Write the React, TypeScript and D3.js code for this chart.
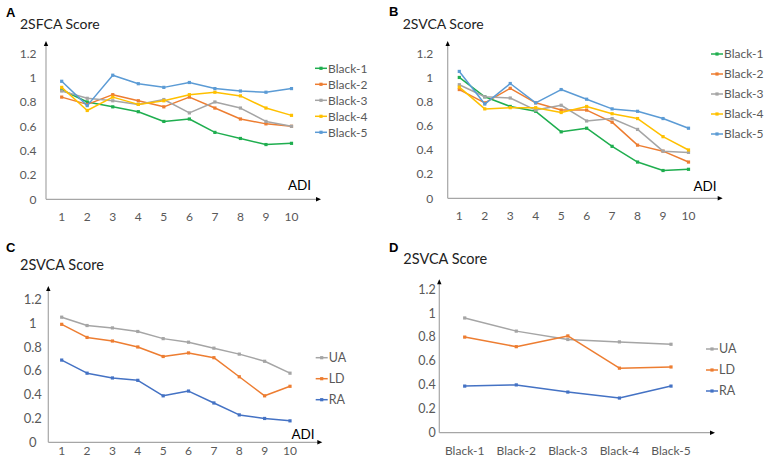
import React from "react";
import * as d3 from "d3";

const adi = [1, 2, 3, 4, 5, 6, 7, 8, 9, 10];
const blackGroups = ["Black-1", "Black-2", "Black-3", "Black-4", "Black-5"];
const yTicks = [0, 0.2, 0.4, 0.6, 0.8, 1, 1.2];
const yTickLabels = ["0", "0.2", "0.4", "0.6", "0.8", "1", "1.2"];

// Panel A: 2SFCA by ADI
const aBlack1 = [0.9, 0.8, 0.76, 0.72, 0.64, 0.66, 0.55, 0.5, 0.45, 0.46];
const aBlack2 = [0.84, 0.78, 0.86, 0.81, 0.76, 0.84, 0.75, 0.66, 0.62, 0.6];
const aBlack3 = [0.89, 0.83, 0.81, 0.78, 0.82, 0.71, 0.8, 0.75, 0.64, 0.6];
const aBlack4 = [0.92, 0.73, 0.84, 0.78, 0.81, 0.86, 0.88, 0.85, 0.75, 0.69];
const aBlack5 = [0.97, 0.77, 1.02, 0.95, 0.92, 0.96, 0.91, 0.89, 0.88, 0.91];

// Panel B: 2SVCA by ADI
const bBlack1 = [1.0, 0.84, 0.76, 0.72, 0.55, 0.58, 0.43, 0.3, 0.23, 0.24];
const bBlack2 = [0.9, 0.79, 0.91, 0.79, 0.73, 0.73, 0.63, 0.44, 0.39, 0.3];
const bBlack3 = [0.94, 0.84, 0.83, 0.73, 0.77, 0.64, 0.66, 0.57, 0.39, 0.38];
const bBlack4 = [0.92, 0.74, 0.75, 0.75, 0.71, 0.76, 0.7, 0.66, 0.51, 0.4];
const bBlack5 = [1.05, 0.78, 0.95, 0.79, 0.9, 0.82, 0.74, 0.72, 0.66, 0.58];

// Panel C: 2SVCA by ADI, by area type
const areaTypes = ["UA", "LD", "RA"];
const cUA = [1.05, 0.98, 0.96, 0.93, 0.87, 0.84, 0.79, 0.74, 0.68, 0.58];
const cLD = [0.99, 0.88, 0.85, 0.8, 0.72, 0.75, 0.71, 0.55, 0.39, 0.47];
const cRA = [0.69, 0.58, 0.54, 0.52, 0.39, 0.43, 0.33, 0.23, 0.2, 0.18];

// Panel D: 2SVCA by Black group, by area type
const dUA = [0.96, 0.85, 0.78, 0.76, 0.74];
const dLD = [0.8, 0.72, 0.81, 0.54, 0.55];
const dRA = [0.39, 0.4, 0.34, 0.29, 0.39];

const FONT = "Lato, 'Open Sans', sans-serif";
const blackColors = ["#1fae4f", "#ed7d31", "#a5a5a5", "#ffc000", "#5b9bd5"];
const areaColors = ["#a5a5a5", "#ed7d31", "#4472c4"];

type Series = { name: string; values: number[]; color: string };

type PanelCfg = {
  letter: string;
  letterX: number;
  letterY: number;
  title: string;
  titleX: number;
  titleY: number;
  titleSize: number;
  axisX: number;
  y0: number;
  y12: number;
  arrowTop: number;
  xEnd: number;
  xFirst: number;
  xLast: number;
  cats: (string | number)[];
  tickX: number;
  tickAnchor: "end" | "middle";
  tickSize: number;
  xLabelY: number;
  xLabelSize: number;
  series: Series[];
  legendX: number;
  legendY: number;
  legendStep: number;
  legendOrder: number[];
  legendSize: number;
  adi?: { x: number; y: number };
};

function Panel({ cfg }: { cfg: PanelCfg }) {
  const y = d3.scaleLinear().domain([0, 1.2]).range([cfg.y0, cfg.y12]);
  const x = d3
    .scalePoint<string>()
    .domain(cfg.cats.map(String))
    .range([cfg.xFirst, cfg.xLast]);
  const line = d3
    .line<number>()
    .x((_, i) => x(String(cfg.cats[i])) as number)
    .y((d) => y(d));
  const axisColor = "#a6a6a6";
  const txt = "#595959";
  return (
    <g>
      <text x={cfg.letterX} y={cfg.letterY} fontFamily="Arial, 'Liberation Sans', sans-serif" fontWeight="bold" fontSize={13} fill="#000">
        {cfg.letter}
      </text>
      <text x={cfg.titleX} y={cfg.titleY} fontFamily={FONT} fontSize={cfg.titleSize} fill="#222">
        {cfg.title}
      </text>
      {/* y axis */}
      <line x1={cfg.axisX} x2={cfg.axisX} y1={cfg.y0} y2={cfg.arrowTop + 4} stroke={axisColor} strokeWidth={1.2} />
      <path
        d={`M${cfg.axisX},${cfg.arrowTop} L${cfg.axisX - 2.2},${cfg.arrowTop + 5} L${cfg.axisX + 2.2},${cfg.arrowTop + 5} Z`}
        fill="#000"
      />
      {/* x axis */}
      <line x1={cfg.axisX} x2={cfg.xEnd - 4} y1={cfg.y0} y2={cfg.y0} stroke={axisColor} strokeWidth={1.2} />
      <path d={`M${cfg.xEnd},${cfg.y0} L${cfg.xEnd - 5},${cfg.y0 - 2.2} L${cfg.xEnd - 5},${cfg.y0 + 2.2} Z`} fill="#000" />
      {yTicks.map((t, i) => (
        <text
          key={i}
          x={cfg.tickX}
          y={y(t)}
          dy="0.35em"
          textAnchor={cfg.tickAnchor}
          fontFamily={FONT}
          fontSize={cfg.tickSize}
          fill={txt}
        >
          {yTickLabels[i]}
        </text>
      ))}
      {cfg.cats.map((c, i) => (
        <text
          key={i}
          x={x(String(c)) as number}
          y={cfg.xLabelY}
          dy="0.35em"
          textAnchor="middle"
          fontFamily={FONT}
          fontSize={cfg.xLabelSize}
          fill={txt}
        >
          {c}
        </text>
      ))}
      {cfg.adi && (
        <text x={cfg.adi.x} y={cfg.adi.y} dy="0.35em" textAnchor="middle" fontFamily={FONT} fontSize={13.5} fill="#000">
          ADI
        </text>
      )}
      {cfg.series.map((s, si) => (
        <g key={si}>
          <path d={line(s.values) || ""} fill="none" stroke={s.color} strokeWidth={1.5} strokeLinejoin="round" />
          {s.values.map((v, i) => (
            <rect
              key={i}
              x={(x(String(cfg.cats[i])) as number) - 1.6}
              y={y(v) - 1.6}
              width={3.2}
              height={3.2}
              fill={s.color}
            />
          ))}
        </g>
      ))}
      {cfg.legendOrder.map((si, k) => {
        const s = cfg.series[si];
        const ly = cfg.legendY + k * cfg.legendStep;
        return (
          <g key={k}>
            <line x1={cfg.legendX} x2={cfg.legendX + 12} y1={ly} y2={ly} stroke={s.color} strokeWidth={1.5} />
            <rect x={cfg.legendX + 4.4} y={ly - 1.6} width={3.2} height={3.2} fill={s.color} />
            <text x={cfg.legendX + 13} y={ly} dy="0.35em" fontFamily={FONT} fontSize={cfg.legendSize} fill={txt}>
              {s.name}
            </text>
          </g>
        );
      })}
    </g>
  );
}

const panelA: PanelCfg = {
  letter: "A",
  letterX: 6,
  letterY: 17,
  title: "2SFCA Score",
  titleX: 20,
  titleY: 29,
  titleSize: 14,
  axisX: 46,
  y0: 199.3,
  y12: 53.3,
  arrowTop: 41,
  xEnd: 321,
  xFirst: 61.7,
  xLast: 291.5,
  cats: adi,
  tickX: 36.5,
  tickAnchor: "end",
  tickSize: 12,
  xLabelY: 217,
  xLabelSize: 12,
  series: [aBlack1, aBlack2, aBlack3, aBlack4, aBlack5].map((v, i) => ({
    name: blackGroups[i],
    values: v,
    color: blackColors[i],
  })),
  legendX: 315,
  legendY: 68.3,
  legendStep: 16,
  legendOrder: [0, 1, 2, 3, 4],
  legendSize: 12,
  adi: { x: 299.5, y: 185 },
};

const panelB: PanelCfg = {
  letter: "B",
  letterX: 389,
  letterY: 16,
  title: "2SVCA Score",
  titleX: 402.7,
  titleY: 29,
  titleSize: 14,
  axisX: 447.7,
  y0: 198.3,
  y12: 53.3,
  arrowTop: 41,
  xEnd: 722.7,
  xFirst: 459.3,
  xLast: 688.5,
  cats: adi,
  tickX: 433.3,
  tickAnchor: "end",
  tickSize: 12,
  xLabelY: 216,
  xLabelSize: 12,
  series: [bBlack1, bBlack2, bBlack3, bBlack4, bBlack5].map((v, i) => ({
    name: blackGroups[i],
    values: v,
    color: blackColors[i],
  })),
  legendX: 711,
  legendY: 54,
  legendStep: 20,
  legendOrder: [0, 1, 2, 3, 4],
  legendSize: 12,
  adi: { x: 705, y: 186 },
};

const panelC: PanelCfg = {
  letter: "C",
  letterX: 6,
  letterY: 252,
  title: "2SVCA Score",
  titleX: 20,
  titleY: 270,
  titleSize: 14.5,
  axisX: 48.3,
  y0: 442.3,
  y12: 299.3,
  arrowTop: 286,
  xEnd: 322.3,
  xFirst: 61.7,
  xLast: 290,
  cats: adi,
  tickX: 32.8,
  tickAnchor: "middle",
  tickSize: 13,
  xLabelY: 451,
  xLabelSize: 12,
  series: [cUA, cLD, cRA].map((v, i) => ({ name: areaTypes[i], values: v, color: areaColors[i] })),
  legendX: 315.7,
  legendY: 357.7,
  legendStep: 21,
  legendOrder: [0, 1, 2],
  legendSize: 12.5,
  adi: { x: 303, y: 434 },
};

const panelD: PanelCfg = {
  letter: "D",
  letterX: 389,
  letterY: 252,
  title: "2SVCA Score",
  titleX: 403.3,
  titleY: 264,
  titleSize: 14.5,
  axisX: 439.3,
  y0: 432.7,
  y12: 289.3,
  arrowTop: 279.3,
  xEnd: 715,
  xFirst: 464.7,
  xLast: 671,
  cats: blackGroups,
  tickX: 435.7,
  tickAnchor: "end",
  tickSize: 12.5,
  xLabelY: 451,
  xLabelSize: 12,
  series: [dUA, dLD, dRA].map((v, i) => ({ name: areaTypes[i], values: v, color: areaColors[i] })),
  legendX: 706,
  legendY: 349,
  legendStep: 21,
  legendOrder: [0, 1, 2],
  legendSize: 12.5,
};

export default function App() {
  return (
    <svg
      width={767}
      height={468}
      viewBox="0 0 767 468"
      style={{ position: "absolute", left: 0, top: 0, background: "#fff" }}
    >
      <rect width={767} height={468} fill="#fff" />
      <Panel cfg={panelA} />
      <Panel cfg={panelB} />
      <Panel cfg={panelC} />
      <Panel cfg={panelD} />
    </svg>
  );
}
